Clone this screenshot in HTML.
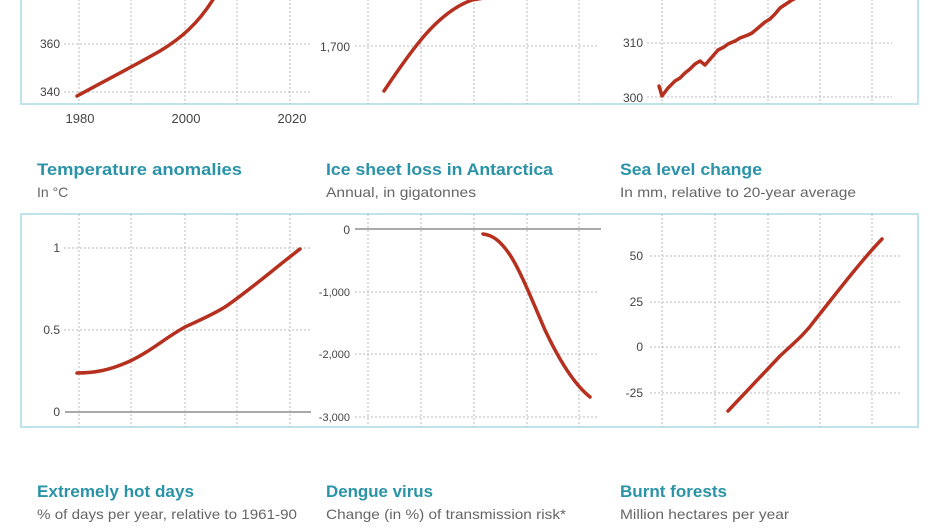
<!DOCTYPE html>
<html><head><meta charset="utf-8"><style>
html,body{margin:0;padding:0;background:#fff;width:940px;height:529px;overflow:hidden}
svg{display:block}
text{font-family:"Liberation Sans",sans-serif}
.t{font-weight:bold;font-size:17px;fill:#2a93a8}
.s{font-size:14px;fill:#666}
.l{font-size:12px;fill:#444}
.g{stroke:#bbb;stroke-width:1;stroke-dasharray:2,2}
.z{stroke:#aaa;stroke-width:2}
.d{fill:none;stroke:#b5301e;stroke-width:3.5;stroke-linecap:round;stroke-linejoin:round}
</style></head><body>
<svg width="940" height="529" viewBox="0 0 940 529">
<!-- top box -->
<rect x="21" y="-5" width="897" height="109" fill="none" stroke="#bfe3ea" stroke-width="2"/>
<g class="g">
<line x1="79" y1="-5" x2="79" y2="104"/><line x1="131" y1="-5" x2="131" y2="104"/><line x1="185" y1="-5" x2="185" y2="104"/><line x1="237" y1="-5" x2="237" y2="104"/><line x1="290" y1="-5" x2="290" y2="104"/>
<line x1="64" y1="44" x2="310" y2="44"/><line x1="64" y1="92" x2="310" y2="92"/>
<line x1="368" y1="-5" x2="368" y2="104"/><line x1="421" y1="-5" x2="421" y2="104"/><line x1="474" y1="-5" x2="474" y2="104"/><line x1="527" y1="-5" x2="527" y2="104"/><line x1="579" y1="-5" x2="579" y2="104"/>
<line x1="355" y1="46" x2="598" y2="46"/>
<line x1="662" y1="-5" x2="662" y2="104"/><line x1="715" y1="-5" x2="715" y2="104"/><line x1="768" y1="-5" x2="768" y2="104"/><line x1="820" y1="-5" x2="820" y2="104"/><line x1="872" y1="-5" x2="872" y2="104"/>
<line x1="647" y1="43" x2="892" y2="43"/><line x1="647" y1="97" x2="892" y2="97"/>
</g>
<text class="l" x="60" y="48" text-anchor="end">360</text>
<text class="l" x="60" y="96" text-anchor="end">340</text>
<text class="l" x="60" y="0" text-anchor="end">380</text>
<text class="l" x="350" y="51" text-anchor="end">1,700</text>
<text class="l" x="643" y="47" text-anchor="end">310</text>
<text class="l" x="643" y="102" text-anchor="end">300</text>
<text class="l" x="80" y="123" text-anchor="middle" style="font-size:13px">1980</text>
<text class="l" x="186" y="123" text-anchor="middle" style="font-size:13px">2000</text>
<text class="l" x="292" y="123" text-anchor="middle" style="font-size:13px">2020</text>
<path class="d" d="M77,96 C110,78 130,68 160,51 C180,39 198,24 214,-2"/>
<path class="d" d="M384,91 C398,70 412,50 425,35 C440,18 455,6 472,0 L490,-3"/>
<path class="d" d="M659,86 L662,96 L668,88 L675,81 L680,78 L685,73 L690,69 L695,64 L700,61 L705,65 L712,57 L718,50 L724,47 L728,44 L735,41 L740,38 L748,35 L752,33 L758,28 L765,22 L770,19 L775,14 L780,8 L786,4 L792,0 L798,-3"/>

<!-- titles row 1 -->
<text class="t" x="37" y="175" textLength="205" lengthAdjust="spacingAndGlyphs">Temperature anomalies</text>
<text class="s" x="37" y="197">In °C</text>
<text class="t" x="326" y="175" textLength="227" lengthAdjust="spacingAndGlyphs">Ice sheet loss in Antarctica</text>
<text class="s" x="326" y="197" textLength="150" lengthAdjust="spacingAndGlyphs">Annual, in gigatonnes</text>
<text class="t" x="620" y="175" textLength="142" lengthAdjust="spacingAndGlyphs">Sea level change</text>
<text class="s" x="620" y="197" textLength="236" lengthAdjust="spacingAndGlyphs">In mm, relative  to 20-year average</text>

<!-- bottom box -->
<rect x="21" y="214" width="897" height="213" fill="none" stroke="#bfe3ea" stroke-width="2"/>
<g class="g">
<line x1="79" y1="214" x2="79" y2="427"/><line x1="131" y1="214" x2="131" y2="427"/><line x1="185" y1="214" x2="185" y2="427"/><line x1="237" y1="214" x2="237" y2="427"/><line x1="290" y1="214" x2="290" y2="427"/>
<line x1="64" y1="248" x2="310" y2="248"/><line x1="64" y1="330" x2="310" y2="330"/>
<line x1="368" y1="214" x2="368" y2="427"/><line x1="421" y1="214" x2="421" y2="427"/><line x1="474" y1="214" x2="474" y2="427"/><line x1="527" y1="214" x2="527" y2="427"/><line x1="579" y1="214" x2="579" y2="427"/>
<line x1="355" y1="292" x2="598" y2="292"/><line x1="355" y1="354" x2="598" y2="354"/><line x1="355" y1="417" x2="598" y2="417"/>
<line x1="662" y1="214" x2="662" y2="427"/><line x1="715" y1="214" x2="715" y2="427"/><line x1="768" y1="214" x2="768" y2="427"/><line x1="820" y1="214" x2="820" y2="427"/><line x1="872" y1="214" x2="872" y2="427"/>
<line x1="650" y1="256" x2="902" y2="256"/><line x1="650" y1="302" x2="902" y2="302"/><line x1="650" y1="347" x2="902" y2="347"/><line x1="650" y1="393" x2="902" y2="393"/>
</g>
<line class="z" x1="65" y1="412" x2="311" y2="412"/>
<line class="z" x1="355" y1="229" x2="601" y2="229"/>
<text class="l" x="60" y="252" text-anchor="end">1</text>
<text class="l" x="60" y="334" text-anchor="end">0.5</text>
<text class="l" x="60" y="416" text-anchor="end">0</text>
<text class="l" x="350" y="234" text-anchor="end">0</text>
<text class="l" x="350" y="296" text-anchor="end" style="font-size:11px">-1,000</text>
<text class="l" x="350" y="358" text-anchor="end" style="font-size:11px">-2,000</text>
<text class="l" x="350" y="421" text-anchor="end" style="font-size:11px">-3,000</text>
<text class="l" x="643" y="260" text-anchor="end">50</text>
<text class="l" x="643" y="306" text-anchor="end">25</text>
<text class="l" x="643" y="351" text-anchor="end">0</text>
<text class="l" x="643" y="397" text-anchor="end">-25</text>
<path class="d" d="M77,373 C95,373 110,370 128,362 C150,352 165,338 185,327 C200,320 212,315 225,307 C250,290 275,268 300,249"/>
<path class="d" d="M483,234 C492,235 500,240 510,255 C520,270 532,300 545,330 C560,362 575,385 590,397"/>
<path class="d" d="M728,411 C745,393 760,377 780,356 C795,342 805,334 815,320 C835,295 860,262 882,239"/>

<!-- titles row 2 -->
<text class="t" x="37" y="497" textLength="157" lengthAdjust="spacingAndGlyphs">Extremely hot days</text>
<text class="s" x="37" y="519" textLength="260" lengthAdjust="spacingAndGlyphs">% of days per year, relative to 1961-90</text>
<text class="t" x="326" y="497" textLength="107" lengthAdjust="spacingAndGlyphs">Dengue virus</text>
<text class="s" x="326" y="519" textLength="240" lengthAdjust="spacingAndGlyphs">Change (in %) of transmission risk*</text>
<text class="t" x="620" y="497" textLength="107" lengthAdjust="spacingAndGlyphs">Burnt forests</text>
<text class="s" x="620" y="519" textLength="169" lengthAdjust="spacingAndGlyphs">Million hectares per year</text>
</svg>
</body></html>
